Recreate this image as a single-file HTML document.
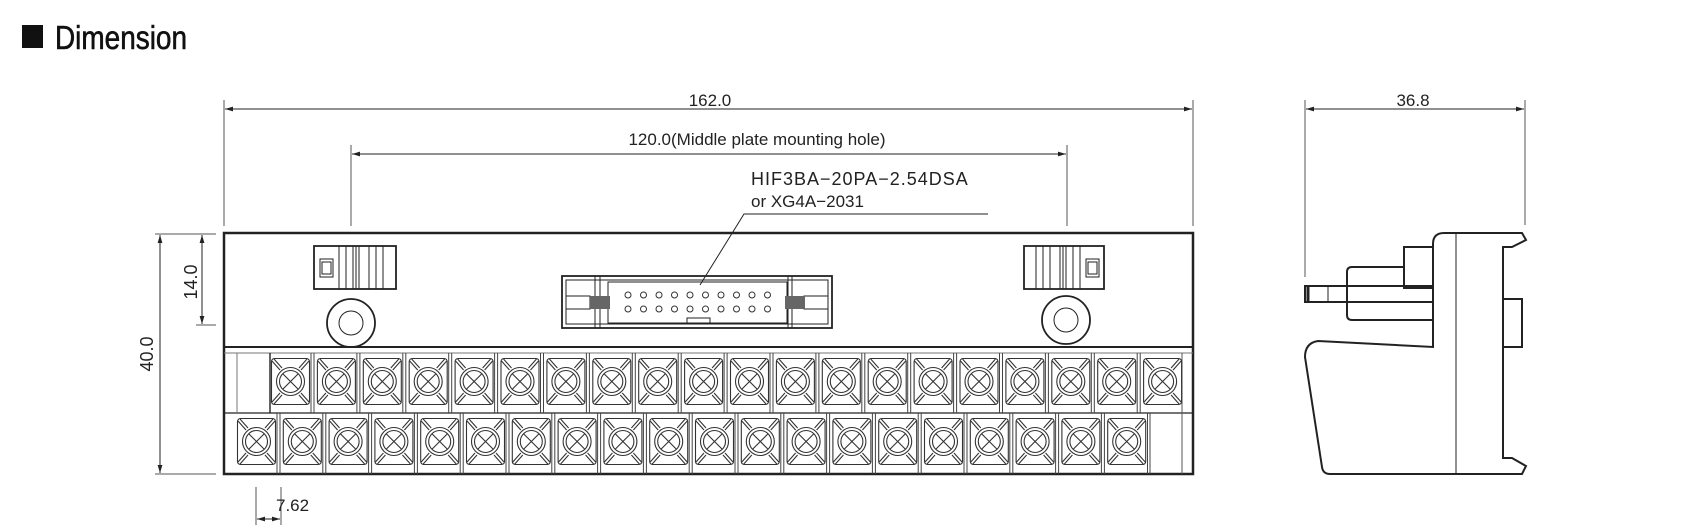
<!DOCTYPE html>
<html><head><meta charset="utf-8"><style>
html,body{margin:0;padding:0;background:#fff;}
svg{display:block;}
text{font-family:"Liberation Sans",sans-serif;fill:#222;}
</style></head><body>
<svg width="1696" height="532" viewBox="0 0 1696 532" xmlns="http://www.w3.org/2000/svg">
<defs>
<marker id="a" viewBox="0 0 10 10" refX="10" refY="5" markerWidth="10" markerHeight="8" orient="auto-start-reverse" markerUnits="userSpaceOnUse"><path d="M0,2 L10,5 L0,8 z" fill="#222"/></marker>
<g id="t" fill="none" stroke="#333" stroke-width="1.1">
<rect x="0.5" y="0.5" width="38" height="46" rx="3"/>
<circle cx="19.5" cy="23.5" r="14"/>
<circle cx="19.5" cy="23.5" r="11"/>
<path d="M12,16 L27,31 M27,16 L12,31"/>
<path d="M1,3 L9,12 M3,1 L11,10 M38,3 L30,12 M36,1 L28,10 M1,44 L9,35 M3,46 L11,37 M38,44 L30,35 M36,46 L28,37"/>
</g>
</defs>
<rect x="22" y="25" width="21" height="23" fill="#111"/>
<text x="55" y="49" font-size="33" style="fill:#111;stroke:#111;stroke-width:0.6" textLength="132" lengthAdjust="spacingAndGlyphs">Dimension</text>

<g stroke="#555" stroke-width="1" fill="none">
<line x1="224" y1="100" x2="224" y2="226"/><line x1="1193" y1="100" x2="1193" y2="226"/>
<line x1="225" y1="109" x2="1192" y2="109" marker-start="url(#a)" marker-end="url(#a)" stroke="#222"/>
<line x1="351" y1="145" x2="351" y2="226"/><line x1="1067" y1="145" x2="1067" y2="226"/>
<line x1="352" y1="154" x2="1066" y2="154" marker-start="url(#a)" marker-end="url(#a)" stroke="#222"/>
<line x1="155" y1="234" x2="216" y2="234"/><line x1="155" y1="474" x2="216" y2="474"/>
<line x1="196" y1="325" x2="216" y2="325"/>
<line x1="160" y1="235" x2="160" y2="473" marker-start="url(#a)" marker-end="url(#a)" stroke="#222"/>
<line x1="202" y1="235" x2="202" y2="324" marker-start="url(#a)" marker-end="url(#a)" stroke="#222"/>
<line x1="256" y1="487" x2="256" y2="525"/><line x1="281" y1="487" x2="281" y2="525"/>
<line x1="257" y1="519" x2="280" y2="519" marker-start="url(#a)" marker-end="url(#a)" stroke="#222"/>
<line x1="1305" y1="100" x2="1305" y2="277"/><line x1="1525" y1="100" x2="1525" y2="225"/>
<line x1="1306" y1="109" x2="1524" y2="109" marker-start="url(#a)" marker-end="url(#a)" stroke="#222"/>
<polyline points="988,214 744,214 700,285" stroke="#222"/>
</g>
<text x="710" y="106" font-size="17" text-anchor="middle">162.0</text>
<text x="757" y="145" font-size="17" text-anchor="middle">120.0(Middle plate mounting hole)</text>
<text x="751" y="185" font-size="18" letter-spacing="1">HIF3BA−20PA−2.54DSA</text>
<text x="751" y="207" font-size="17">or XG4A−2031</text>
<text x="1413" y="106" font-size="17" text-anchor="middle">36.8</text>
<text x="276" y="511" font-size="17">7.62</text>
<text transform="translate(153,354) rotate(-90)" font-size="18" text-anchor="middle">40.0</text>
<text transform="translate(197,282) rotate(-90)" font-size="18" text-anchor="middle">14.0</text>

<g fill="none" stroke="#222">
<rect x="224" y="233" width="969" height="241" stroke-width="2.5"/>
<line x1="224" y1="347" x2="1193" y2="347" stroke-width="2"/>
<line x1="224" y1="353" x2="1193" y2="353" stroke-width="1" stroke="#777"/>
<line x1="224" y1="413" x2="1193" y2="413" stroke-width="1.2"/>
<line x1="237" y1="353" x2="237" y2="413" stroke-width="1" stroke="#777"/>
<line x1="270" y1="353" x2="270" y2="413" stroke-width="1.4"/>
<line x1="1182" y1="353" x2="1182" y2="474" stroke-width="1" stroke="#555"/>
<rect x="314" y="246" width="82" height="43" stroke-width="1.8"/>
<path d="M339,246 V289 M346,246 V289 M353,246 V289 M356,246 V289 M359,246 V289 M369,246 V289 M376,246 V289 M383,246 V289" stroke-width="1"/>
<rect x="320" y="259" width="13" height="18" stroke-width="1"/><rect x="322" y="262" width="9" height="12" stroke-width="1"/>
<rect x="1024" y="246" width="80" height="43" stroke-width="1.8"/>
<path d="M1036,246 V289 M1043,246 V289 M1050,246 V289 M1060,246 V289 M1063,246 V289 M1066,246 V289 M1073,246 V289 M1080,246 V289" stroke-width="1"/>
<rect x="1086" y="259" width="13" height="18" stroke-width="1"/><rect x="1088" y="262" width="9" height="12" stroke-width="1"/>
<circle cx="351" cy="323" r="24" stroke-width="1.8"/><circle cx="351" cy="323" r="12" stroke-width="1"/>
<circle cx="1066" cy="320" r="24" stroke-width="1.8"/><circle cx="1066" cy="320" r="12" stroke-width="1"/>
<rect x="562" y="276" width="270" height="52" stroke-width="1.8"/>
<rect x="566" y="280" width="262" height="44" stroke-width="1"/>
<path d="M595,276 V328 M600,276 V328 M788,276 V328 M792,276 V328" stroke-width="1"/>
<rect x="608" y="282" width="179" height="41" stroke-width="1"/>
<rect x="687" y="318" width="23" height="6" stroke-width="1"/>
<rect x="566" y="296" width="24" height="13" stroke-width="1"/>
<rect x="804" y="296" width="24" height="13" stroke-width="1"/>
</g>
<rect x="590" y="296" width="20" height="13" fill="#666"/>
<rect x="785" y="296" width="20" height="13" fill="#666"/>
<g fill="none" stroke="#333" stroke-width="1">
<circle cx="628" cy="295" r="3"/><circle cx="643.5" cy="295" r="3"/><circle cx="659" cy="295" r="3"/><circle cx="674.5" cy="295" r="3"/><circle cx="690" cy="295" r="3"/><circle cx="705.5" cy="295" r="3"/><circle cx="721" cy="295" r="3"/><circle cx="736.5" cy="295" r="3"/><circle cx="752" cy="295" r="3"/><circle cx="767.5" cy="295" r="3"/>
<circle cx="628" cy="309" r="3"/><circle cx="643.5" cy="309" r="3"/><circle cx="659" cy="309" r="3"/><circle cx="674.5" cy="309" r="3"/><circle cx="690" cy="309" r="3"/><circle cx="705.5" cy="309" r="3"/><circle cx="721" cy="309" r="3"/><circle cx="736.5" cy="309" r="3"/><circle cx="752" cy="309" r="3"/><circle cx="767.5" cy="309" r="3"/>
</g>
<g>
<use href="#t" x="271" y="358"/><use href="#t" x="316.9" y="358"/><use href="#t" x="362.8" y="358"/><use href="#t" x="408.7" y="358"/><use href="#t" x="454.6" y="358"/><use href="#t" x="500.5" y="358"/><use href="#t" x="546.4" y="358"/><use href="#t" x="592.3" y="358"/><use href="#t" x="638.2" y="358"/><use href="#t" x="684.1" y="358"/><use href="#t" x="730" y="358"/><use href="#t" x="775.9" y="358"/><use href="#t" x="821.8" y="358"/><use href="#t" x="867.7" y="358"/><use href="#t" x="913.6" y="358"/><use href="#t" x="959.5" y="358"/><use href="#t" x="1005.4" y="358"/><use href="#t" x="1051.3" y="358"/><use href="#t" x="1097.2" y="358"/><use href="#t" x="1143.1" y="358"/>
</g>
<g>
<use href="#t" x="237" y="418"/><use href="#t" x="282.8" y="418"/><use href="#t" x="328.6" y="418"/><use href="#t" x="374.4" y="418"/><use href="#t" x="420.2" y="418"/><use href="#t" x="466" y="418"/><use href="#t" x="511.8" y="418"/><use href="#t" x="557.6" y="418"/><use href="#t" x="603.4" y="418"/><use href="#t" x="649.2" y="418"/><use href="#t" x="695" y="418"/><use href="#t" x="740.8" y="418"/><use href="#t" x="786.6" y="418"/><use href="#t" x="832.4" y="418"/><use href="#t" x="878.2" y="418"/><use href="#t" x="924" y="418"/><use href="#t" x="969.8" y="418"/><use href="#t" x="1015.6" y="418"/><use href="#t" x="1061.4" y="418"/><use href="#t" x="1107.2" y="418"/>
</g>
<g stroke="#444" stroke-width="1">
<path d="M311,353V413 M314,353V413 M356.9,353V413 M359.9,353V413 M402.8,353V413 M405.8,353V413 M448.7,353V413 M451.7,353V413 M494.6,353V413 M497.6,353V413 M540.5,353V413 M543.5,353V413 M586.4,353V413 M589.4,353V413 M632.3,353V413 M635.3,353V413 M678.2,353V413 M681.2,353V413 M724.1,353V413 M727.1,353V413 M770,353V413 M773,353V413 M815.9,353V413 M818.9,353V413 M861.8,353V413 M864.8,353V413 M907.7,353V413 M910.7,353V413 M953.6,353V413 M956.6,353V413 M999.5,353V413 M1002.5,353V413 M1045.4,353V413 M1048.4,353V413 M1091.3,353V413 M1094.3,353V413 M1137.2,353V413 M1140.2,353V413"/>
<path d="M277,413V474 M280,413V474 M322.8,413V474 M325.8,413V474 M368.6,413V474 M371.6,413V474 M414.4,413V474 M417.4,413V474 M460.2,413V474 M463.2,413V474 M506,413V474 M509,413V474 M551.8,413V474 M554.8,413V474 M597.6,413V474 M600.6,413V474 M643.4,413V474 M646.4,413V474 M689.2,413V474 M692.2,413V474 M735,413V474 M738,413V474 M780.8,413V474 M783.8,413V474 M826.6,413V474 M829.6,413V474 M872.4,413V474 M875.4,413V474 M918.2,413V474 M921.2,413V474 M964,413V474 M967,413V474 M1009.8,413V474 M1012.8,413V474 M1055.6,413V474 M1058.6,413V474 M1101.4,413V474 M1104.4,413V474 M1147.5,413V474 M1150,413V474"/>
</g>

<g fill="none" stroke="#222" stroke-width="2">
<path d="M1433,347 V244 Q1433,233 1444,233 H1522 L1526,240 L1512,247 H1503 V458 H1512 L1526,466 L1522,474 H1330 Q1323,474 1322,467 L1305,357 Q1305,343 1318,341 Z"/>
<line x1="1456" y1="233" x2="1456" y2="474" stroke-width="1"/>
<rect x="1503" y="299" width="19" height="48"/>
<rect x="1404" y="247" width="29" height="41"/>
<path d="M1404,267 H1352 Q1347,267 1347,272 V315 Q1347,320 1352,320 H1433"/>
<rect x="1305" y="286" width="128" height="16"/>
<line x1="1308" y1="286" x2="1308" y2="302" stroke-width="3"/>
<line x1="1328" y1="286" x2="1328" y2="302" stroke-width="1"/>
</g>
</svg>
</body></html>
